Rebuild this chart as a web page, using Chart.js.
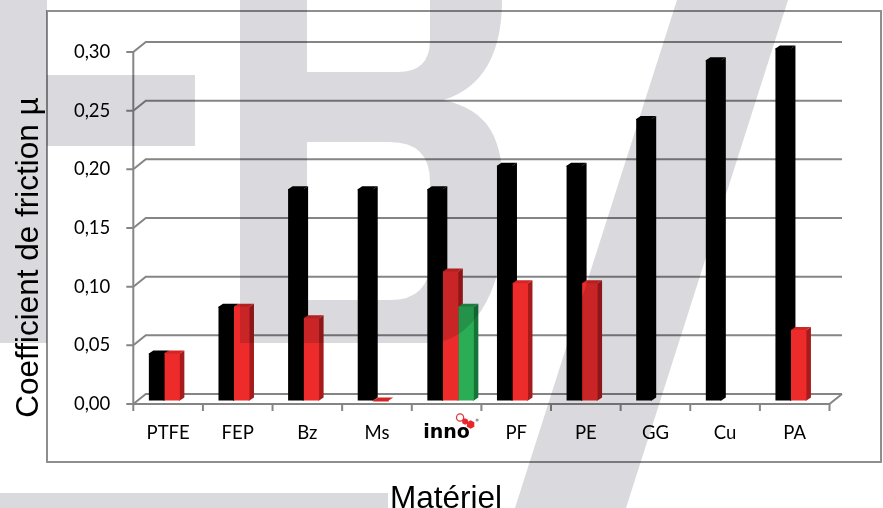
<!DOCTYPE html>
<html>
<head>
<meta charset="utf-8">
<title>Coefficient de friction</title>
<script src="https://cdn.jsdelivr.net/npm/chart.js@4.4.1/dist/chart.umd.min.js"></script>
<style>
  html, body { margin: 0; padding: 0; background: #ffffff; }
  canvas { display: block; }
</style>
</head>
<body>
<canvas id="friction" width="883" height="508"></canvas>
<script>
// Materials and their friction coefficients (three test series)
const materials = ['PTFE', 'FEP', 'Bz', 'Ms', 'inno', 'PF', 'PE', 'GG', 'Cu', 'PA'];
const frictionSeries1 = [0.04, 0.08, 0.18, 0.18, 0.18, 0.20, 0.20, 0.24, 0.29, 0.30];
const frictionSeries2 = [0.04, 0.08, 0.07, 0.00, 0.11, 0.10, 0.10, null, null, 0.06];
const frictionSeries3 = [null, null, null, null, 0.08, null, null, null, null, null];
const seriesNames = ['Série 1', 'Série 2', 'Série 3'];
const yAxisTitle = 'Coefficient de friction µ';
const xAxisTitle = 'Matériel';

// Styling
const FRONT = ['#000000', '#ee2b2b', '#2aad55'];
const TOP = ['#000000', '#d02626', '#239449'];
const SIDE = ['#000000', '#a61b1b', '#157438'];
const LINE = '#858585';
const WALL = { dx: 12.5, dy: -10 };      // depth of the back wall
const BAR_SHIFT = { dx: 4, dy: -3.5 };   // bars sit half-way into the floor
const BAR_DEPTH = { dx: 4.5, dy: -3 };   // bevel of each column
const INNO_INDEX = materials.indexOf('inno');

function fmt(v) { return v.toFixed(2).replace('.', ','); }

const frame3d = {
  id: 'frame3d',
  beforeDraw(chart) {
    const { ctx, chartArea: a, scales: { x, y } } = chart;
    ctx.save();
    ctx.fillStyle = '#ffffff';
    ctx.fillRect(0, 0, chart.width, chart.height);

    // outer frame
    ctx.strokeStyle = '#8e8e8e';
    ctx.lineWidth = 2;
    ctx.strokeRect(47, 11, 834, 451);

    // back wall grid, tick marks and connectors
    ctx.strokeStyle = LINE;
    ctx.lineWidth = 2;
    ctx.lineJoin = 'miter';
    y.ticks.forEach(t => {
      const py = y.getPixelForValue(t.value);
      ctx.beginPath();
      ctx.moveTo(a.left - 7, py);
      ctx.lineTo(a.left, py);
      ctx.lineTo(a.left + WALL.dx, py + WALL.dy);
      ctx.lineTo(a.right + WALL.dx, py + WALL.dy);
      ctx.stroke();
    });

    // value axis
    ctx.beginPath();
    ctx.moveTo(a.left, y.getPixelForValue(y.max));
    ctx.lineTo(a.left, a.bottom);
    ctx.stroke();

    // floor front edge and right side
    ctx.beginPath();
    ctx.moveTo(a.left, a.bottom);
    ctx.lineTo(a.right, a.bottom);
    ctx.lineTo(a.right + WALL.dx, a.bottom + WALL.dy);
    ctx.stroke();

    // category separators
    for (let i = 0; i <= materials.length; i++) {
      const px = x.getPixelForValue(i - 0.5);
      ctx.beginPath();
      ctx.moveTo(px, a.bottom);
      ctx.lineTo(px, a.bottom + 7);
      ctx.stroke();
    }
    ctx.restore();
  },
  beforeDatasetsDraw(chart) {
    const { ctx } = chart;
    ctx.save();
    ctx.translate(BAR_SHIFT.dx, BAR_SHIFT.dy);
    // tops and sides first; the library then paints the fronts over them
    chart.data.datasets.forEach((ds, di) => {
      const meta = chart.getDatasetMeta(di);
      meta.data.forEach((bar, i) => {
        const v = ds.data[i];
        if (v === null || v === undefined) return;
        const { x, y, base, width } = bar.getProps(['x', 'y', 'base', 'width'], true);
        const l = x - width / 2, r = x + width / 2;
        ctx.fillStyle = SIDE[di];
        ctx.beginPath();
        ctx.moveTo(r - 1, y);
        ctx.lineTo(r, y);
        ctx.lineTo(r + BAR_DEPTH.dx, y + BAR_DEPTH.dy);
        ctx.lineTo(r + BAR_DEPTH.dx, base + BAR_DEPTH.dy);
        ctx.lineTo(r, base);
        ctx.lineTo(r - 1, base);
        ctx.closePath();
        ctx.fill();
        ctx.fillStyle = TOP[di];
        ctx.beginPath();
        ctx.moveTo(l, y + 1);
        ctx.lineTo(l, y);
        ctx.lineTo(l + BAR_DEPTH.dx, y + BAR_DEPTH.dy);
        ctx.lineTo(r + BAR_DEPTH.dx, y + BAR_DEPTH.dy);
        ctx.lineTo(r, y);
        ctx.lineTo(r, y + 1);
        ctx.closePath();
        ctx.fill();
      });
    });
  },
  afterDatasetsDraw(chart) {
    chart.ctx.restore();
  },
  afterDraw(chart) {
    const { ctx, scales: { x }, chartArea: a } = chart;
    ctx.save();

    // axis titles
    ctx.fillStyle = '#000000';
    ctx.font = '31.5px "Liberation Sans", Arial, sans-serif';
    ctx.textAlign = 'center';
    ctx.textBaseline = 'alphabetic';
    ctx.fillText(xAxisTitle, 446, 507.5);
    ctx.save();
    ctx.translate(37.5, 257.5);
    ctx.rotate(-Math.PI / 2);
    ctx.fillText(yAxisTitle, 0, 0);
    ctx.restore();

    // small emblem beside the "inno" label
    const cx = x.getPixelForValue(INNO_INDEX);
    const by = a.bottom;
    ctx.strokeStyle = '#e03a3a';
    ctx.lineWidth = 1.3;
    ctx.beginPath();
    ctx.arc(cx + 13.5, by + 13.5, 3.6, 0, Math.PI * 2);
    ctx.stroke();
    ctx.fillStyle = '#e8262b';
    const hex = (hx, hy, r) => {
      ctx.beginPath();
      for (let k = 0; k < 6; k++) {
        const ang = Math.PI / 6 + k * Math.PI / 3;
        const px = hx + r * Math.cos(ang), py = hy + r * Math.sin(ang);
        if (k === 0) ctx.moveTo(px, py); else ctx.lineTo(px, py);
      }
      ctx.closePath();
      ctx.fill();
    };
    hex(cx + 18.5, by + 17.5, 3.3);
    hex(cx + 24, by + 20.5, 4.3);
    ctx.fillStyle = '#9a9a9a';
    ctx.beginPath();
    ctx.arc(cx + 30.5, by + 16, 1.6, 0, Math.PI * 2);
    ctx.fill();

    // faint lettering laid over the whole figure
    ctx.globalCompositeOperation = 'multiply';
    ctx.fillStyle = 'rgb(217,217,222)';
    ctx.beginPath();
    ctx.moveTo(0, 0); ctx.lineTo(47, 0); ctx.lineTo(47, 75); ctx.lineTo(195, 75);
    ctx.lineTo(195, 146); ctx.lineTo(47, 146); ctx.lineTo(47, 343); ctx.lineTo(0, 343);
    ctx.closePath();
    ctx.fill();
    ctx.fillRect(0, 493, 388, 15);
    ctx.beginPath();
    ctx.moveTo(677, 0); ctx.lineTo(788, 0); ctx.lineTo(626, 508); ctx.lineTo(515, 508);
    ctx.closePath();
    ctx.fill();
    ctx.beginPath();
    ctx.moveTo(240, 0);
    ctx.lineTo(502, 0);
    ctx.bezierCurveTo(502, 50, 485, 88, 443, 100);
    ctx.bezierCurveTo(490, 110, 503, 140, 503, 190);
    ctx.lineTo(503, 230);
    ctx.ellipse(430, 230, 73, 113, 0, 0, Math.PI / 2);
    ctx.lineTo(240, 343);
    ctx.closePath();
    ctx.moveTo(307, 0);
    ctx.lineTo(430, 0);
    ctx.lineTo(430, 40);
    ctx.quadraticCurveTo(430, 72, 398, 72);
    ctx.lineTo(307, 72);
    ctx.closePath();
    ctx.moveTo(307, 142);
    ctx.lineTo(390, 142);
    ctx.quadraticCurveTo(430, 142, 430, 182);
    ctx.lineTo(430, 260);
    ctx.quadraticCurveTo(430, 300, 390, 300);
    ctx.lineTo(307, 300);
    ctx.closePath();
    ctx.fill('evenodd');
    ctx.restore();
  }
};

const seriesData = [frictionSeries1, frictionSeries2, frictionSeries3];

new Chart(document.getElementById('friction'), {
  type: 'bar',
  data: {
    labels: materials,
    datasets: seriesData.map((d, i) => ({
      label: seriesNames[i],
      data: d,
      backgroundColor: FRONT[i],
      borderWidth: 0,
      clip: false,
      categoryPercentage: 0.668,
      barPercentage: 1.0
    }))
  },
  options: {
    responsive: false,
    animation: false,
    events: [],
    layout: { padding: { left: 0, right: 53.5, top: 52, bottom: 0 } },
    plugins: {
      legend: { display: false },
      tooltip: { enabled: false },
      title: { display: false }
    },
    scales: {
      x: {
        type: 'category',
        offset: true,
        grid: { display: false, drawTicks: false },
        border: { display: false },
        ticks: {
          autoSkip: false,
          maxRotation: 0,
          minRotation: 0,
          padding: 18,
          color: '#000000',
          font: (c) => c.index === INNO_INDEX
            ? { family: '"DejaVu Sans", sans-serif', size: 19, weight: 'bold' }
            : { family: 'Lato, "Open Sans", sans-serif', size: 18.5 }
        },
        afterFit(scale) { scale.height = 104; }
      },
      y: {
        min: 0,
        max: 0.30,
        grid: { display: false, drawTicks: false },
        border: { display: false },
        ticks: {
          stepSize: 0.05,
          padding: 23,
          color: '#000000',
          font: { family: 'Lato, "Open Sans", sans-serif', size: 18.5 },
          callback: (v) => fmt(v)
        },
        afterFit(scale) { scale.width = 133.3; }
      }
    }
  },
  plugins: [frame3d]
});
</script>
</body>
</html>
